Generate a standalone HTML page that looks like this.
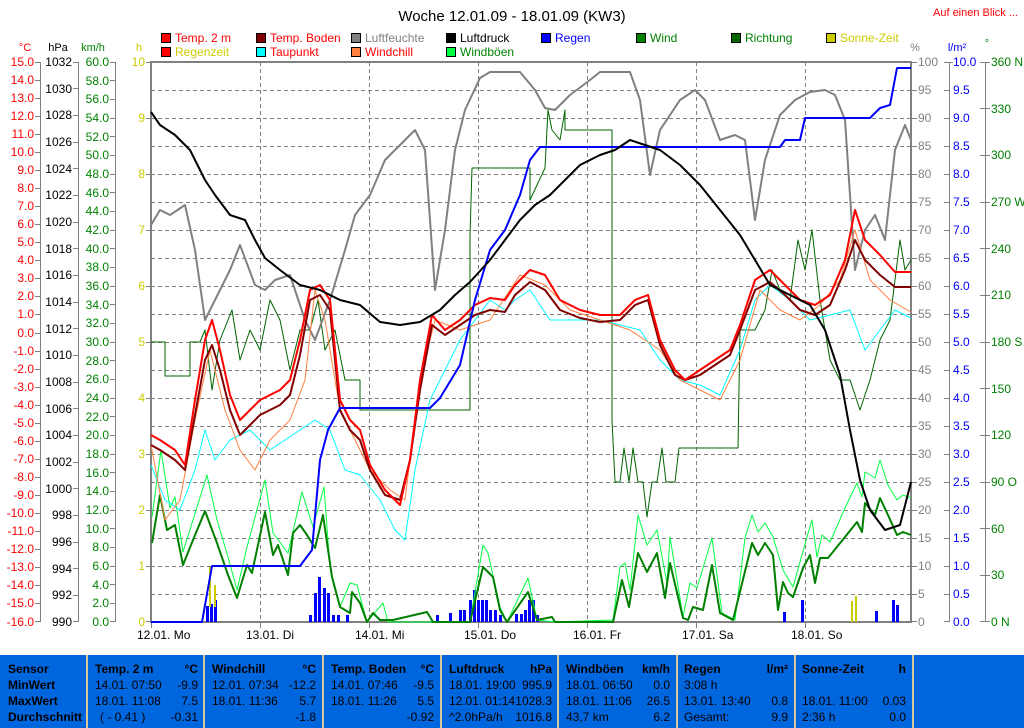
<!DOCTYPE html>
<html><head><meta charset="utf-8"><style>
html,body{margin:0;padding:0;background:#fff;}
svg{display:block;font-family:"Liberation Sans",sans-serif;font-size:11px;}
</style></head><body>
<svg width="1024" height="728" viewBox="0 0 1024 728" xmlns="http://www.w3.org/2000/svg">
<rect width="1024" height="728" fill="#fff"/>
<text x="512" y="21" text-anchor="middle" font-size="15">Woche 12.01.09 - 18.01.09 (KW3)</text>
<text x="933" y="16" fill="#f00">Auf einen Blick ...</text>
<g stroke="#000" stroke-width="1">
<rect x="161.5" y="33.5" width="9" height="9" fill="#f00"/>
<rect x="256.5" y="33.5" width="9" height="9" fill="#800000"/>
<rect x="351.5" y="33.5" width="9" height="9" fill="#808080"/>
<rect x="446.5" y="33.5" width="9" height="9" fill="#000"/>
<rect x="541.5" y="33.5" width="9" height="9" fill="#0000ff"/>
<rect x="636.5" y="33.5" width="9" height="9" fill="#008000"/>
<rect x="731.5" y="33.5" width="9" height="9" fill="#006400"/>
<rect x="826.5" y="33.5" width="9" height="9" fill="#cccc00"/>
<rect x="161.5" y="47.5" width="9" height="9" fill="#f00"/>
<rect x="256.5" y="47.5" width="9" height="9" fill="#00ffff"/>
<rect x="351.5" y="47.5" width="9" height="9" fill="#ff8040"/>
<rect x="446.5" y="47.5" width="9" height="9" fill="#00ff40"/>
</g>
<g font-size="12">
<text x="175" y="42" fill="#f00">Temp. 2 m</text>
<text x="270" y="42" fill="#f00">Temp. Boden</text>
<text x="365" y="42" fill="#808080">Luftfeuchte</text>
<text x="460" y="42" fill="#000">Luftdruck</text>
<text x="555" y="42" fill="#0000ff">Regen</text>
<text x="650" y="42" fill="#008000">Wind</text>
<text x="745" y="42" fill="#008000">Richtung</text>
<text x="840" y="42" fill="#cccc00">Sonne-Zeit</text>
<text x="175" y="56" fill="#cccc00">Regenzeit</text>
<text x="270" y="56" fill="#f00">Taupunkt</text>
<text x="365" y="56" fill="#f00">Windchill</text>
<text x="460" y="56" fill="#008000">Windböen</text>
</g>
<text x="25" y="51" fill="#f00" text-anchor="middle">°C</text>
<text x="58" y="51" text-anchor="middle">hPa</text>
<text x="93" y="51" fill="#008000" text-anchor="middle">km/h</text>
<text x="139" y="51" fill="#cccc00" text-anchor="middle">h</text>
<text x="915" y="51" fill="#808080" text-anchor="middle">%</text>
<text x="957" y="51" fill="#0000ff" text-anchor="middle">l/m²</text>
<text x="987" y="47" fill="#008000" text-anchor="middle">°</text>
<g stroke="#808080" stroke-dasharray="4,3" stroke-width="1">
<path d="M151 90.5H911M151 118.5H911M151 146.5H911M151 174.5H911M151 202.5H911M151 230.5H911M151 258.5H911M151 286.5H911M151 314.5H911M151 342.5H911M151 370.5H911M151 398.5H911M151 426.5H911M151 454.5H911M151 482.5H911M151 510.5H911M151 538.5H911M151 566.5H911M151 594.5H911"/>
<path d="M260.5 62V622M369.5 62V622M478.5 62V622M587.5 62V622M696.5 62V622M805.5 62V622"/>
</g>
<rect x="151" y="62" width="760" height="560" fill="none" stroke="#808080" stroke-width="2"/>
<g stroke="#808080" stroke-width="1" fill="none">
<path d="M40.5 62V622M78.5 62V622M115.5 62V622M949.5 62V622M985.5 62V622"/>
</g>
<g stroke="#808080">
<path d="M35 62.5h6M35 80.5h6M35 98.5h6M35 116.5h6M35 134.5h6M35 152.5h6M35 170.5h6M35 188.5h6M35 206.5h6M35 224.5h6M35 242.5h6M35 260.5h6M35 278.5h6M35 296.5h6M35 314.5h6M35 333.5h6M35 351.5h6M35 369.5h6M35 387.5h6M35 405.5h6M35 423.5h6M35 441.5h6M35 459.5h6M35 477.5h6M35 495.5h6M35 513.5h6M35 531.5h6M35 549.5h6M35 567.5h6M35 585.5h6M35 603.5h6M35 621.5h6"/>
<path d="M73 62.5h6M73 88.5h6M73 115.5h6M73 142.5h6M73 168.5h6M73 195.5h6M73 222.5h6M73 248.5h6M73 275.5h6M73 302.5h6M73 328.5h6M73 355.5h6M73 382.5h6M73 408.5h6M73 435.5h6M73 462.5h6M73 488.5h6M73 515.5h6M73 542.5h6M73 568.5h6M73 595.5h6M73 621.5h6"/>
<path d="M110 62.5h6M110 80.5h6M110 99.5h6M110 118.5h6M110 136.5h6M110 155.5h6M110 174.5h6M110 192.5h6M110 211.5h6M110 230.5h6M110 248.5h6M110 267.5h6M110 286.5h6M110 304.5h6M110 323.5h6M110 342.5h6M110 360.5h6M110 379.5h6M110 398.5h6M110 416.5h6M110 435.5h6M110 454.5h6M110 472.5h6M110 491.5h6M110 510.5h6M110 528.5h6M110 547.5h6M110 566.5h6M110 584.5h6M110 603.5h6M110 621.5h6"/>
<path d="M146 62.5h5M146 118.5h5M146 174.5h5M146 230.5h5M146 286.5h5M146 342.5h5M146 398.5h5M146 454.5h5M146 510.5h5M146 566.5h5M146 621.5h5"/>
<path d="M911 62.5h6M911 90.5h6M911 118.5h6M911 146.5h6M911 174.5h6M911 202.5h6M911 230.5h6M911 258.5h6M911 286.5h6M911 314.5h6M911 342.5h6M911 370.5h6M911 398.5h6M911 426.5h6M911 454.5h6M911 482.5h6M911 510.5h6M911 538.5h6M911 566.5h6M911 594.5h6M911 621.5h6"/>
<path d="M944 62.5h9M944 90.5h5M944 118.5h5M944 146.5h5M944 174.5h5M944 202.5h5M944 230.5h5M944 258.5h5M944 286.5h5M944 314.5h5M944 342.5h5M944 370.5h5M944 398.5h5M944 426.5h5M944 454.5h5M944 482.5h5M944 510.5h5M944 538.5h5M944 566.5h5M944 594.5h5M944 621.5h5"/>
<path d="M980 62.5h10M980 108.5h10M980 155.5h10M980 202.5h10M980 248.5h10M980 295.5h10M980 342.5h10M980 388.5h10M980 435.5h10M980 482.5h10M980 528.5h10M980 575.5h10M980 621.5h10"/>
<path d="M151.5 622v6M260.5 622v6M369.5 622v6M478.5 622v6M587.5 622v6M696.5 622v6M805.5 622v6"/>
</g>
<g font-size="12">
<g fill="#f00" text-anchor="end">
<text x="34" y="66">15.0</text><text x="34" y="84">14.0</text><text x="34" y="102">13.0</text><text x="34" y="120">12.0</text><text x="34" y="138">11.0</text><text x="34" y="156">10.0</text><text x="34" y="174">9.0</text><text x="34" y="192">8.0</text><text x="34" y="210">7.0</text><text x="34" y="228">6.0</text><text x="34" y="246">5.0</text><text x="34" y="264">4.0</text><text x="34" y="282">3.0</text><text x="34" y="300">2.0</text><text x="34" y="318">1.0</text><text x="34" y="337">0.0</text><text x="34" y="355">-1.0</text><text x="34" y="373">-2.0</text><text x="34" y="391">-3.0</text><text x="34" y="409">-4.0</text><text x="34" y="427">-5.0</text><text x="34" y="445">-6.0</text><text x="34" y="463">-7.0</text><text x="34" y="481">-8.0</text><text x="34" y="499">-9.0</text><text x="34" y="517">-10.0</text><text x="34" y="535">-11.0</text><text x="34" y="553">-12.0</text><text x="34" y="571">-13.0</text><text x="34" y="589">-14.0</text><text x="34" y="607">-15.0</text><text x="34" y="626">-16.0</text>
</g>
<g fill="#000" text-anchor="end">
<text x="72" y="66">1032</text><text x="72" y="93">1030</text><text x="72" y="119">1028</text><text x="72" y="146">1026</text><text x="72" y="173">1024</text><text x="72" y="199">1022</text><text x="72" y="226">1020</text><text x="72" y="253">1018</text><text x="72" y="279">1016</text><text x="72" y="306">1014</text><text x="72" y="333">1012</text><text x="72" y="359">1010</text><text x="72" y="386">1008</text><text x="72" y="413">1006</text><text x="72" y="439">1004</text><text x="72" y="466">1002</text><text x="72" y="493">1000</text><text x="72" y="519">998</text><text x="72" y="546">996</text><text x="72" y="573">994</text><text x="72" y="599">992</text><text x="72" y="626">990</text>
</g>
<g fill="#008000" text-anchor="end">
<text x="109" y="66">60.0</text><text x="109" y="85">58.0</text><text x="109" y="103">56.0</text><text x="109" y="122">54.0</text><text x="109" y="141">52.0</text><text x="109" y="159">50.0</text><text x="109" y="178">48.0</text><text x="109" y="197">46.0</text><text x="109" y="215">44.0</text><text x="109" y="234">42.0</text><text x="109" y="253">40.0</text><text x="109" y="271">38.0</text><text x="109" y="290">36.0</text><text x="109" y="309">34.0</text><text x="109" y="327">32.0</text><text x="109" y="346">30.0</text><text x="109" y="365">28.0</text><text x="109" y="383">26.0</text><text x="109" y="402">24.0</text><text x="109" y="421">22.0</text><text x="109" y="439">20.0</text><text x="109" y="458">18.0</text><text x="109" y="477">16.0</text><text x="109" y="495">14.0</text><text x="109" y="514">12.0</text><text x="109" y="533">10.0</text><text x="109" y="551">8.0</text><text x="109" y="570">6.0</text><text x="109" y="589">4.0</text><text x="109" y="607">2.0</text><text x="109" y="626">0.0</text>
</g>
<g fill="#cccc00" text-anchor="end">
<text x="145" y="66">10</text><text x="145" y="122">9</text><text x="145" y="178">8</text><text x="145" y="234">7</text><text x="145" y="290">6</text><text x="145" y="346">5</text><text x="145" y="402">4</text><text x="145" y="458">3</text><text x="145" y="514">2</text><text x="145" y="570">1</text><text x="145" y="626">0</text>
</g>
<g fill="#808080">
<text x="918" y="66">100</text><text x="918" y="94">95</text><text x="918" y="122">90</text><text x="918" y="150">85</text><text x="918" y="178">80</text><text x="918" y="206">75</text><text x="918" y="234">70</text><text x="918" y="262">65</text><text x="918" y="290">60</text><text x="918" y="318">55</text><text x="918" y="346">50</text><text x="918" y="374">45</text><text x="918" y="402">40</text><text x="918" y="430">35</text><text x="918" y="458">30</text><text x="918" y="486">25</text><text x="918" y="514">20</text><text x="918" y="542">15</text><text x="918" y="570">10</text><text x="918" y="598">5</text><text x="918" y="626">0</text>
</g>
<g fill="#0000ff">
<text x="953" y="66">10.0</text><text x="953" y="94">9.5</text><text x="953" y="122">9.0</text><text x="953" y="150">8.5</text><text x="953" y="178">8.0</text><text x="953" y="206">7.5</text><text x="953" y="234">7.0</text><text x="953" y="262">6.5</text><text x="953" y="290">6.0</text><text x="953" y="318">5.5</text><text x="953" y="346">5.0</text><text x="953" y="374">4.5</text><text x="953" y="402">4.0</text><text x="953" y="430">3.5</text><text x="953" y="458">3.0</text><text x="953" y="486">2.5</text><text x="953" y="514">2.0</text><text x="953" y="542">1.5</text><text x="953" y="570">1.0</text><text x="953" y="598">0.5</text><text x="953" y="626">0.0</text>
</g>
<g fill="#008000">
<text x="991" y="66">360 N</text><text x="991" y="113">330</text><text x="991" y="159">300</text><text x="991" y="206">270 W</text><text x="991" y="253">240</text><text x="991" y="299">210</text><text x="991" y="346">180 S</text><text x="991" y="393">150</text><text x="991" y="439">120</text><text x="991" y="486">90 O</text><text x="991" y="533">60</text><text x="991" y="579">30</text><text x="991" y="626">0 N</text>
</g>
<g fill="#000">
<text x="137" y="639">12.01. Mo</text><text x="246" y="639">13.01. Di</text><text x="355" y="639">14.01. Mi</text><text x="464" y="639">15.01. Do</text><text x="573" y="639">16.01. Fr</text><text x="682" y="639">17.01. Sa</text><text x="791" y="639">18.01. So</text>
</g>
</g>
<g fill="#0000ff">
<rect x="206" y="606" width="3" height="16"/><rect x="210" y="604" width="3" height="18"/><rect x="214" y="600" width="3" height="22"/>
<rect x="309" y="615" width="3" height="7"/><rect x="314" y="593" width="3" height="29"/><rect x="318" y="577" width="3" height="45"/><rect x="323" y="588" width="3" height="34"/><rect x="327" y="593" width="3" height="29"/><rect x="332" y="615" width="3" height="7"/><rect x="337" y="615" width="3" height="7"/><rect x="346" y="615" width="3" height="7"/>
<rect x="436" y="615" width="3" height="7"/><rect x="449" y="613" width="3" height="9"/><rect x="459" y="610" width="3" height="12"/><rect x="463" y="610" width="3" height="12"/><rect x="469" y="600" width="3" height="22"/><rect x="473" y="590" width="3" height="32"/><rect x="477" y="600" width="3" height="22"/><rect x="481" y="600" width="3" height="22"/><rect x="485" y="600" width="3" height="22"/><rect x="489" y="610" width="3" height="12"/><rect x="494" y="610" width="3" height="12"/><rect x="499" y="615" width="3" height="7"/>
<rect x="515" y="614" width="3" height="8"/><rect x="520" y="614" width="3" height="8"/><rect x="524" y="610" width="3" height="12"/><rect x="528" y="600" width="3" height="22"/><rect x="532" y="600" width="3" height="22"/><rect x="536" y="615" width="3" height="7"/>
<rect x="783" y="612" width="3" height="10"/><rect x="801" y="600" width="3" height="22"/><rect x="875" y="611" width="3" height="11"/><rect x="892" y="600" width="3" height="22"/><rect x="896" y="605" width="3" height="17"/>
</g>
<g fill="#cccc00"><rect x="209" y="567" width="2" height="40"/><rect x="214" y="585" width="2" height="22"/><rect x="851" y="601" width="2" height="21"/><rect x="855" y="596" width="2" height="26"/></g>
<g fill="none" stroke-linejoin="round">
<polyline stroke="#00ff40" stroke-width="1" points="152,517 161,450 170,508 175,497 183,552 207,475 217,520 228,557 237,590 247,547 265,480 273,533 288,553 302,492 313,527 324,487 330,567 340,607 350,583 357,585 367,622 383,603 388,622 470,622 483,545 488,553 500,607 507,622 528,578 537,620 555,622 613,620 620,567 625,563 630,590 638,515 647,545 657,530 667,583 670,537 683,617 690,583 697,588 712,538 722,613 735,620 745,538 752,515 758,532 765,523 773,537 783,570 793,587 807,537 812,520 817,557 822,535 830,542 845,508 857,483 862,497 865,472 875,478 880,460 888,485 897,500 903,495 911,498"/>
<polyline stroke="#006400" stroke-width="1" points="151,342 165,342 165,376 190,376 190,342 200,342 205,330 212,390 220,340 232,310 240,360 250,330 260,350 270,300 280,320 290,370 300,330 310,330 318,300 325,350 335,330 345,380 360,380 360,410 395,410 470,410 470,235 472,168 500,168 530,168 530,200 545,168 548,110 552,130 560,140 565,110 565,130 612,130 612,420 615,482 620,482 624,448 629,482 633,448 638,482 643,482 647,517 652,482 657,482 662,448 666,482 675,482 679,448 738,448 740,330 755,330 765,310 772,270 780,290 790,300 798,240 805,270 812,230 820,300 830,360 840,380 850,380 860,410 870,380 880,340 890,320 900,240 905,270 911,260"/>
<polyline stroke="#008000" stroke-width="2" points="152,543 160,495 167,530 175,525 183,565 193,540 205,511 217,543 228,575 237,598 247,565 252,573 265,512 273,555 278,545 288,575 293,533 300,525 307,535 315,548 323,515 332,577 340,607 350,613 352,592 360,603 367,622 373,613 380,620 393,620 427,612 433,622 470,622 483,567 493,577 500,610 507,622 528,592 537,620 552,617 555,622 613,622 622,580 629,607 638,553 647,572 657,553 665,598 670,563 683,618 688,620 693,607 703,610 712,565 720,613 733,620 752,543 758,555 765,543 773,555 778,610 783,582 788,593 793,597 803,568 810,555 815,583 820,558 828,558 845,537 857,522 862,532 865,503 875,515 880,498 888,515 897,535 903,532 911,535"/>
<polyline stroke="#808080" stroke-width="2" points="151,225 160,210 170,215 185,205 195,250 205,320 215,300 230,270 240,245 255,285 265,290 275,280 290,275 305,320 315,340 330,300 345,250 355,215 370,195 385,160 400,145 415,130 425,150 435,290 445,230 455,150 465,110 480,78 490,72 520,72 535,90 545,108 555,110 570,95 590,80 600,72 630,72 640,100 650,175 660,130 680,100 695,90 705,100 720,140 735,135 745,140 755,220 765,160 780,115 795,100 810,92 825,90 835,95 845,120 855,270 865,230 875,215 885,240 895,150 905,125 911,140"/>
<polyline stroke="#00ffff" stroke-width="1" points="151,465 165,500 180,510 195,470 205,430 215,460 230,440 250,430 270,450 285,440 300,430 315,420 330,430 345,470 360,475 380,500 395,530 405,540 415,470 430,400 445,370 460,340 475,320 490,300 505,310 515,300 530,290 550,320 570,320 600,320 620,325 640,330 660,360 680,380 700,385 720,395 740,350 755,300 770,285 790,300 810,320 830,315 850,310 865,350 880,330 895,310 911,318"/>
<polyline stroke="#ff8040" stroke-width="1" points="151,445 165,520 180,500 195,420 210,350 225,410 240,450 255,470 270,440 290,420 305,380 315,290 325,320 340,410 355,440 370,470 390,490 405,500 420,380 435,320 460,330 490,320 520,275 545,285 570,310 600,320 630,330 660,350 680,380 700,390 720,400 740,360 760,290 780,310 800,320 820,305 840,280 855,230 870,280 890,300 911,312"/>
<polyline stroke="#800000" stroke-width="2" points="151,445 160,450 175,460 185,470 195,415 205,360 212,345 220,370 230,410 240,435 250,425 260,415 270,410 280,405 290,395 300,355 310,300 320,295 330,310 340,410 350,430 360,440 370,470 385,495 400,500 410,460 420,390 432,325 445,335 460,325 475,315 490,310 505,312 515,295 530,282 545,290 560,310 580,318 600,322 620,320 635,305 648,300 660,345 675,375 685,380 700,375 715,365 730,355 740,330 755,290 770,282 785,295 800,310 815,315 830,305 845,270 855,240 865,260 880,275 895,287 911,287"/>
<polyline stroke="#f00" stroke-width="2" points="151,435 160,440 175,450 185,465 195,400 205,340 212,320 220,350 230,395 240,420 250,410 260,400 270,395 280,390 290,380 300,340 310,290 320,285 330,300 340,400 350,420 360,430 370,465 385,490 400,505 410,460 420,380 432,315 445,330 460,320 475,305 490,298 505,300 515,285 530,270 545,275 560,300 580,310 600,315 620,315 635,300 648,295 660,340 675,370 685,380 700,370 715,360 730,350 740,325 755,280 770,270 785,285 800,300 815,305 830,295 845,260 855,210 865,240 880,255 895,272 911,272"/>
<polyline stroke="#0000ff" stroke-width="2" points="151,622 202,622 212,566 300,566 312,550 320,460 328,430 340,408 430,408 440,398 460,365 475,300 490,250 505,230 520,195 530,160 540,147 780,147 785,140 800,140 805,118 870,118 880,108 890,105 897,68 911,68"/>
<polyline stroke="#000" stroke-width="2" points="151,112 160,125 175,135 190,150 205,180 215,195 230,215 245,220 255,240 265,258 280,270 300,285 320,290 340,300 360,305 380,322 400,325 420,322 440,310 455,295 470,282 490,260 505,240 520,220 535,205 550,195 565,180 580,165 600,155 615,150 630,140 645,145 660,150 680,165 700,185 720,210 740,235 755,260 770,285 790,295 810,305 825,330 840,375 850,430 860,480 870,510 885,530 900,525 911,482"/>
</g>
<rect x="0" y="655" width="1024" height="73" fill="#0066dd"/>
<g fill="#d8c8a0"><rect x="86" y="655" width="2" height="73"/><rect x="203" y="655" width="2" height="73"/><rect x="322" y="655" width="2" height="73"/><rect x="440" y="655" width="2" height="73"/><rect x="557" y="655" width="2" height="73"/><rect x="676" y="655" width="2" height="73"/><rect x="794" y="655" width="2" height="73"/><rect x="912" y="655" width="2" height="73"/></g>
<g fill="#000" font-weight="bold" font-size="12">
<text x="8" y="673">Sensor</text><text x="8" y="689">MinWert</text><text x="8" y="705">MaxWert</text><text x="8" y="721">Durchschnitt</text>
<text x="95" y="673">Temp. 2 m</text><text x="198" y="673" text-anchor="end">°C</text>
<text x="212" y="673">Windchill</text><text x="316" y="673" text-anchor="end">°C</text>
<text x="331" y="673">Temp. Boden</text><text x="434" y="673" text-anchor="end">°C</text>
<text x="449" y="673">Luftdruck</text><text x="552" y="673" text-anchor="end">hPa</text>
<text x="566" y="673">Windböen</text><text x="670" y="673" text-anchor="end">km/h</text>
<text x="684" y="673">Regen</text><text x="788" y="673" text-anchor="end">l/m²</text>
<text x="802" y="673">Sonne-Zeit</text><text x="906" y="673" text-anchor="end">h</text>
</g>
<g fill="#000" font-size="12">
<text x="95" y="689">14.01.  07:50</text><text x="198" y="689" text-anchor="end">-9.9</text>
<text x="95" y="705">18.01.  11:08</text><text x="198" y="705" text-anchor="end">7.5</text>
<text x="100" y="721">( - 0.41 )</text><text x="198" y="721" text-anchor="end">-0.31</text>
<text x="212" y="689">12.01.  07:34</text><text x="316" y="689" text-anchor="end">-12.2</text>
<text x="212" y="705">18.01.  11:36</text><text x="316" y="705" text-anchor="end">5.7</text>
<text x="316" y="721" text-anchor="end">-1.8</text>
<text x="331" y="689">14.01.  07:46</text><text x="434" y="689" text-anchor="end">-9.5</text>
<text x="331" y="705">18.01.  11:26</text><text x="434" y="705" text-anchor="end">5.5</text>
<text x="434" y="721" text-anchor="end">-0.92</text>
<text x="449" y="689">18.01.  19:00</text><text x="552" y="689" text-anchor="end">995.9</text>
<text x="449" y="705" textLength="66">12.01.  01:14</text><text x="552" y="705" text-anchor="end">1028.3</text>
<text x="449" y="721">^2.0hPa/h</text><text x="552" y="721" text-anchor="end">1016.8</text>
<text x="566" y="689">18.01.  06:50</text><text x="670" y="689" text-anchor="end">0.0</text>
<text x="566" y="705">18.01.  11:06</text><text x="670" y="705" text-anchor="end">26.5</text>
<text x="566" y="721">43,7 km</text><text x="670" y="721" text-anchor="end">6.2</text>
<text x="684" y="689">3:08 h</text>
<text x="684" y="705">13.01.  13:40</text><text x="788" y="705" text-anchor="end">0.8</text>
<text x="684" y="721">Gesamt:</text><text x="788" y="721" text-anchor="end">9.9</text>
<text x="802" y="705">18.01.  11:00</text><text x="906" y="705" text-anchor="end">0.03</text>
<text x="802" y="721">2:36 h</text><text x="906" y="721" text-anchor="end">0.0</text>
</g>
</svg>
</body></html>
